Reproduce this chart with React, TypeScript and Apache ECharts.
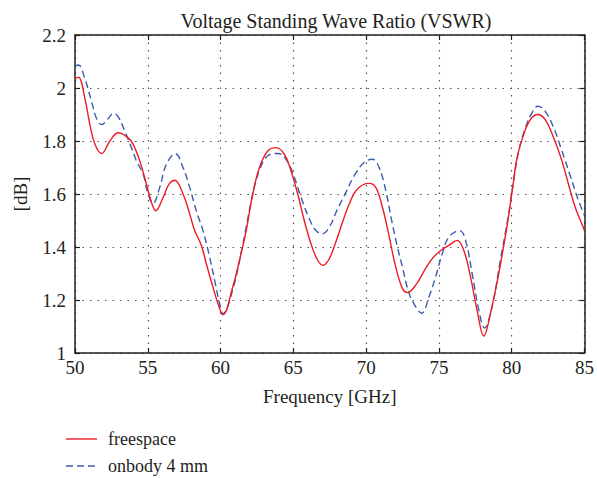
import React, { useEffect, useRef } from 'react';
import * as echarts from 'echarts';

const TITLE = 'Voltage Standing Wave Ratio (VSWR)';
const X_NAME = 'Frequency [GHz]';
const Y_NAME = '[dB]';
const SERIES_NAMES = ['freespace', 'onbody 4 mm'];

const freespaceFreq = [
  50.0, 50.23, 50.68, 51.03, 51.37, 51.83, 52.4, 52.97, 53.65, 53.99, 54.45, 54.91, 55.25, 55.55,
  56.05, 56.46, 56.85, 57.42, 57.88, 58.22, 58.68, 59.02, 59.47, 59.82, 60.16, 60.84, 61.3, 61.76,
  62.21, 62.67, 63.24, 63.81, 64.38, 64.84, 65.3, 65.75, 66.21, 66.67, 67.05, 67.47, 67.92, 68.38,
  68.84, 69.4, 70.2, 70.66, 71.12, 71.58, 72.03, 72.49, 72.83, 73.4, 74.09, 74.54, 75.12, 75.68,
  76.25, 76.71, 77.17, 77.62, 78.08, 78.54, 79.11, 79.68, 80.03, 80.37, 80.82, 81.28, 81.78, 82.3,
  82.88, 83.45, 83.9, 84.36, 84.82, 85.0,
];
const freespaceVSWR = [
  2.035, 2.041, 1.96, 1.86, 1.788, 1.753, 1.8, 1.831, 1.812, 1.788, 1.725, 1.637, 1.569, 1.537,
  1.587, 1.637, 1.652, 1.6, 1.525, 1.462, 1.406, 1.337, 1.25, 1.187, 1.144, 1.25, 1.35, 1.462,
  1.6, 1.7, 1.762, 1.775, 1.75, 1.687, 1.6, 1.5, 1.412, 1.35, 1.331, 1.356, 1.419, 1.494,
  1.562, 1.619, 1.64, 1.625, 1.55, 1.44, 1.325, 1.244, 1.228, 1.256, 1.319, 1.356, 1.387, 1.406,
  1.425, 1.387, 1.287, 1.162, 1.064, 1.15, 1.3, 1.48, 1.61, 1.737, 1.825, 1.881, 1.9, 1.881,
  1.812, 1.725, 1.637, 1.55, 1.487, 1.462,
];

const onbodyFreq = [
  50.0, 50.23, 50.68, 51.14, 51.48, 51.83, 52.28, 52.63, 52.97, 53.42, 53.88, 54.22, 54.68, 55.02,
  55.36, 55.82, 56.28, 56.9, 57.42, 57.88, 58.33, 58.79, 59.25, 59.59, 59.93, 60.16, 60.84, 61.53,
  62.21, 62.67, 63.24, 63.92, 64.5, 65.07, 65.53, 66.1, 66.55, 67.0, 67.47, 68.04, 68.61, 69.18,
  69.86, 70.43, 70.89, 71.35, 71.8, 72.15, 72.49, 72.95, 73.4, 73.81, 74.32, 74.77, 75.23, 75.68,
  76.42, 76.83, 77.28, 77.74, 78.13, 78.65, 79.22, 79.79, 80.1, 80.48, 80.94, 81.39, 81.8, 82.3,
  82.88, 83.45, 84.02, 84.59, 85.0,
];
const onbodyVSWR = [
  2.082, 2.087, 2.035, 1.948, 1.885, 1.862, 1.885, 1.904, 1.891, 1.837, 1.775, 1.725, 1.675, 1.6,
  1.565, 1.625, 1.712, 1.752, 1.7, 1.625, 1.537, 1.462, 1.362, 1.275, 1.187, 1.148, 1.24, 1.41,
  1.6, 1.69, 1.744, 1.753, 1.731, 1.662, 1.587, 1.506, 1.462, 1.45, 1.475, 1.544, 1.606, 1.669,
  1.719, 1.731, 1.7, 1.612, 1.487, 1.4, 1.325, 1.225, 1.175, 1.15, 1.212, 1.287, 1.375, 1.437,
  1.462, 1.425, 1.3, 1.162, 1.094, 1.175, 1.35, 1.525, 1.64, 1.762, 1.85, 1.906, 1.931, 1.912,
  1.85, 1.762, 1.669, 1.575, 1.519,
];

const FONT = '"Liberation Serif", "DejaVu Serif", serif';
const INK = '#231f20';
const RED = '#ec1c24';
const BLUE = '#3b5cae';
const BLUE_DASH = [7, 4];

export default function App() {
  const ref = useRef<HTMLDivElement>(null);
  useEffect(() => {
    document.body.style.margin = '0';
    const chart = echarts.init(ref.current as HTMLDivElement, null, { renderer: 'svg' });
    const axisLine = { show: true, onZero: false, lineStyle: { color: INK, width: 1.5 } };
    const axisTick = { show: true, inside: true, length: 5, lineStyle: { color: INK, width: 1.2 } };
    const splitLine = { show: true, lineStyle: { type: [1.5, 6], color: '#555', width: 1.2 } };
    const legendRows = [
      { name: SERIES_NAMES[0], y: 439, color: RED, dash: null as number[] | null },
      { name: SERIES_NAMES[1], y: 466, color: BLUE, dash: BLUE_DASH },
    ];
    const legendGraphics: any[] = [];
    legendRows.forEach((r) => {
      legendGraphics.push({
        type: 'line',
        shape: { x1: 66, y1: r.y, x2: 97, y2: r.y },
        style: { stroke: r.color, lineWidth: 1.4, lineDash: r.dash || undefined },
      });
      legendGraphics.push({
        type: 'text',
        x: 108,
        y: r.y,
        style: {
          text: r.name,
          fill: INK,
          font: `18px ${FONT}`,
          textVerticalAlign: 'middle',
          verticalAlign: 'middle',
        },
      });
    });
    chart.setOption({
      animation: false,
      textStyle: { fontFamily: FONT },
      title: {
        text: TITLE,
        left: 331,
        top: 6,
        textAlign: 'center',
        textStyle: { fontSize: 20, fontWeight: 'normal', color: INK, fontFamily: FONT },
      },
      grid: { left: 75, right: 11, top: 35, bottom: 125 },
      graphic: legendGraphics,
      xAxis: [
        {
          type: 'value', min: 50, max: 85, interval: 5, position: 'bottom',
          name: X_NAME, nameLocation: 'middle', nameGap: 34,
          nameTextStyle: { fontSize: 19, color: INK, fontFamily: FONT },
          axisLine, axisTick,
          axisLabel: { fontSize: 19, color: INK, margin: 5, fontFamily: FONT },
          splitLine,
        },
        {
          type: 'value', min: 50, max: 85, interval: 5, position: 'top',
          axisLine, axisTick, axisLabel: { show: false }, splitLine: { show: false },
        },
      ],
      yAxis: [
        {
          type: 'value', min: 1, max: 2.2, interval: 0.2, position: 'left',
          name: Y_NAME, nameLocation: 'middle', nameGap: 45, nameRotate: 90,
          nameTextStyle: { fontSize: 19, color: INK, fontFamily: FONT },
          axisLine, axisTick,
          axisLabel: { fontSize: 19, color: INK, margin: 9, fontFamily: FONT },
          splitLine,
        },
        {
          type: 'value', min: 1, max: 2.2, interval: 0.2, position: 'right',
          axisLine, axisTick, axisLabel: { show: false }, splitLine: { show: false },
        },
      ],
      series: [
        {
          name: SERIES_NAMES[1], type: 'line', xAxisIndex: 0, yAxisIndex: 0,
          data: onbodyFreq.map((f, i) => [f, onbodyVSWR[i]]),
          smooth: 0.4, showSymbol: false, symbol: 'none',
          lineStyle: { color: BLUE, width: 1.4, type: BLUE_DASH },
          itemStyle: { color: BLUE },
        },
        {
          name: SERIES_NAMES[0], type: 'line', xAxisIndex: 0, yAxisIndex: 0,
          data: freespaceFreq.map((f, i) => [f, freespaceVSWR[i]]),
          smooth: 0.4, showSymbol: false, symbol: 'none',
          lineStyle: { color: RED, width: 1.4 },
          itemStyle: { color: RED },
        },
      ],
    });
    return () => chart.dispose();
  }, []);
  return <div ref={ref} style={{ width: 597, height: 478 }} />;
}
